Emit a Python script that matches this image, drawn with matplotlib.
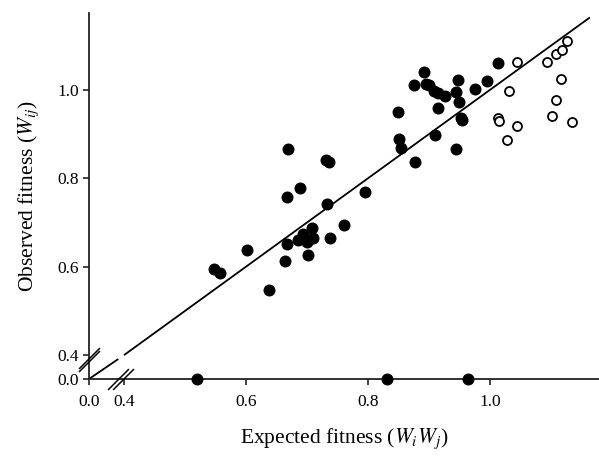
import matplotlib
matplotlib.use("Agg")
import matplotlib.pyplot as plt
import numpy as np
from matplotlib.path import Path

plt.rcParams["font.family"] = "Liberation Serif"
plt.rcParams["mathtext.fontset"] = "stix"

# Filled circles: observed vs expected fitness
filled_x = [0.669, 0.731, 0.736, 0.688, 0.668, 0.733, 0.760, 0.709, 0.694, 0.710,
            0.685, 0.700, 0.738, 0.668, 0.602, 0.701, 0.664, 0.548, 0.557, 0.637,
            0.796, 0.849, 0.851, 0.855, 0.878, 0.910, 0.945, 0.892, 0.875, 0.895,
            0.900, 0.908, 0.915, 0.926, 0.947, 0.944, 0.949, 0.915, 0.952, 0.954,
            0.975, 0.995, 1.014, 0.520, 0.831, 0.964]
filled_y = [0.866, 0.842, 0.836, 0.779, 0.757, 0.741, 0.695, 0.688, 0.674, 0.666,
            0.661, 0.656, 0.666, 0.651, 0.638, 0.626, 0.614, 0.595, 0.585, 0.548,
            0.770, 0.950, 0.889, 0.869, 0.836, 0.898, 0.867, 1.041, 1.012, 1.014,
            1.011, 0.998, 0.993, 0.986, 1.023, 0.996, 0.972, 0.959, 0.936, 0.932,
            1.002, 1.021, 1.060, 0.0, 0.0, 0.0]

# Open circles
open_x = [1.045, 1.093, 1.108, 1.118, 1.127, 1.031, 1.116, 1.108, 1.102, 1.135,
          1.014, 1.015, 1.045, 1.028]
open_y = [1.063, 1.063, 1.081, 1.090, 1.111, 0.998, 1.025, 0.977, 0.942, 0.928,
          0.937, 0.930, 0.919, 0.886]

x_ticks = [0.0, 0.4, 0.6, 0.8, 1.0]
y_ticks = [0.0, 0.4, 0.6, 0.8, 1.0]
tick_labels = ["0.0", "0.4", "0.6", "0.8", "1.0"]

BREAK = 0.4


def make_scale(c):
    # compress the 0 - 0.4 stretch of the axis by factor c
    def fwd(v):
        v = np.asarray(v, dtype=float)
        return np.where(v < BREAK, v * c, BREAK * c + (v - BREAK))

    def inv(u):
        u = np.asarray(u, dtype=float)
        return np.where(u < BREAK * c, u / c, u - BREAK * c + BREAK)

    return fwd, inv


fig = plt.figure(figsize=(5.99, 4.58), dpi=100)
ax = fig.add_axes([0.1486, 0.1725, 0.8514, 0.799])
ax.set_xscale("function", functions=make_scale(0.1434))
ax.set_yscale("function", functions=make_scale(0.135))
ax.set_xlim(0.0, 1.179)
ax.set_ylim(0.0, 1.174)

# expected = observed line, with a small gap at the break
ax.plot([0.0, 0.335], [0.0, 0.335], color="black", lw=1.3, solid_capstyle="butt")
ax.plot([0.4, 1.164], [0.4, 1.164], color="black", lw=1.3, solid_capstyle="butt")

ax.scatter(filled_x, filled_y, s=58, color="black", zorder=3, clip_on=False)
ax.scatter(open_x, open_y, s=42, facecolor="white", edgecolor="black",
           linewidth=1.3, zorder=3)

for side in ["top", "right"]:
    ax.spines[side].set_visible(False)
for side in ["left", "bottom"]:
    ax.spines[side].set_linewidth(1.3)
    ax.spines[side].set_color("#222222")

ax.set_xticks(x_ticks)
ax.set_xticklabels(tick_labels)
ax.set_yticks(y_ticks)
ax.set_yticklabels(tick_labels)
ax.tick_params(axis="both", direction="out", length=4, width=1.2,
               labelsize=12.5, colors="#222222", labelcolor="black")
ax.tick_params(axis="x", pad=7)
ax.tick_params(axis="y", pad=3)
ax.minorticks_off()

# axis break marks
slash = Path([(-1, -1), (1, 1)], [Path.MOVETO, Path.LINETO])
ax.plot([0.331, 0.383], [0.0, 0.0], linestyle="none", marker=slash,
        markersize=15, markeredgecolor="black", markeredgewidth=1.1,
        clip_on=False, zorder=4)
ax.plot([0.0, 0.0], [0.357, 0.306], linestyle="none", marker=slash,
        markersize=15, markeredgecolor="black", markeredgewidth=1.1,
        clip_on=False, zorder=4)

ax.set_xlabel("Expected fitness ($W_iW_j$)", fontsize=15.5, labelpad=12)
ax.set_ylabel("Observed fitness ($W_{ij}$)", fontsize=15.5, labelpad=12)

fig.savefig("out.png", dpi=100)
